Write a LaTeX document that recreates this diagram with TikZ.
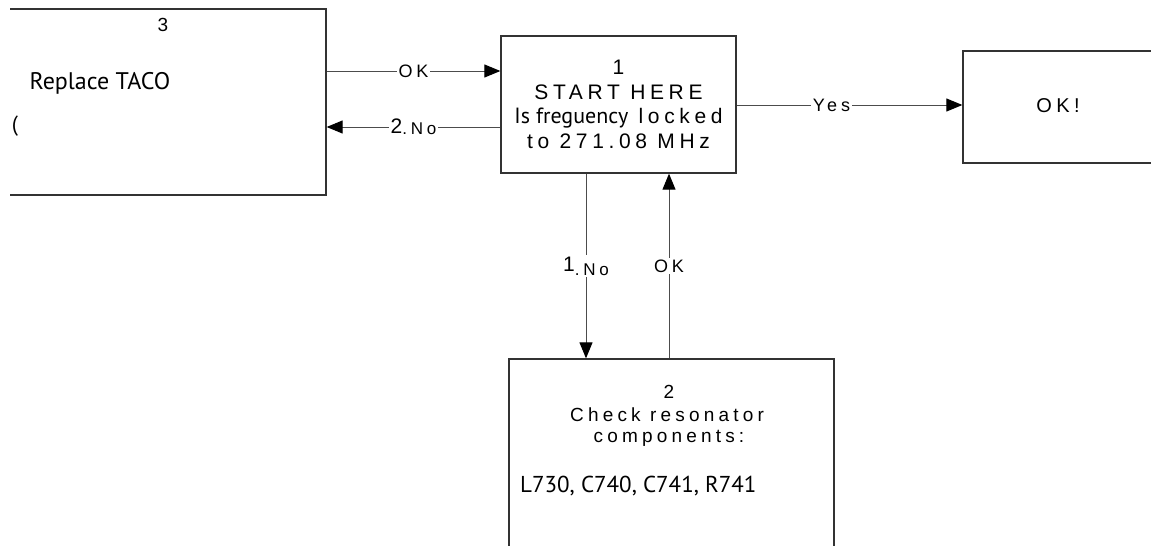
\documentclass[tikz,border=0pt]{standalone}
\usepackage{fontspec}
\setmainfont{Liberation Sans}
\newfontfamily\widefont[LetterSpace=22]{Liberation Sans}
\newfontfamily\narrowfont{PT Sans}
\usetikzlibrary{arrows.meta}

\begin{document}
\begin{tikzpicture}[
    x = 1pt,
    y = -1pt,
    box/.style={
        draw = black!80,
        line width = 1.3pt,
        inner sep = 0pt
    },
    wide/.style={
        inner sep = 0pt,
        font = \widefont\fontsize{19}{22}\selectfont
    },
    narrow/.style={
        inner sep = 0pt,
        font = \narrowfont\fontsize{22}{24}\selectfont
    },
    lbl/.style={
        fill = white,
        inner sep = 2pt,
        font = \widefont\fontsize{18}{20}\selectfont
    },
    link/.style={
        draw = black!70,
        line width = 1pt,
        -{Triangle[length=16pt,width=13pt,black]}
    }
    ]

\useasboundingbox (0,0) rectangle (1151,546);
\clip (10,0) rectangle (1151,546);

% boxes
\node[box, minimum width=346pt, minimum height=186pt] (taco) at (153,102) {};
\node[box, minimum width=235pt, minimum height=137pt, align=center,
      font=\widefont\fontsize{21}{24.5}\selectfont] (start) at (618.5,104.5)
    {1\\START HERE\\{\narrowfont\fontsize{22}{24.5}\selectfont Is freguency} locked\\to 271.08 MHz};
\node[box, minimum width=207pt, minimum height=112pt] (done) at (1066.5,107) {};
\node[box, minimum width=325pt, minimum height=221pt] (check) at (671.5,469.5) {};

% texts
\node[wide] (tacono) at (163,25) {3};
\node[narrow, font=\narrowfont\fontsize{24}{26}\selectfont] (tacotxt) at (100,83) {Replace TACO};
\node[narrow] (tacocut) at (15,126) {(};
\node[wide, font=\widefont\fontsize{20}{22}\selectfont] (donetxt) at (1058,106) {OK!};
\node[wide] (checkno) at (669,392) {2};
\node[wide] (checkl1) at (667,415) {Check resonator};
\node[wide] (checkl2) at (669,438) {components:};
\node[narrow, anchor=west, font=\narrowfont\fontsize{23}{25}\selectfont] (checkl3) at (520,486) {L730, C740, C741, R741};

% connectors
\draw[link] (taco.east |- 0,71) -- node[lbl] {OK} (start.west |- 0,71);
\draw[link] (start.west |- 0,127) -- node[lbl] {\raisebox{1pt}{\fontsize{21}{22}\selectfont 2}{\fontsize{17}{20}\selectfont .No}} (taco.east |- 0,127);
\draw[link] (start.east |- 0,105) -- node[lbl, pos=0.42] {Yes} (done.west |- 0,105);
\draw[link] (start.south -| 586,0) -- node[lbl] {\raisebox{4pt}{\fontsize{21}{22}\selectfont 1}{\fontsize{17}{20}\selectfont .No}} (check.north -| 586,0);
\draw[link] (check.north -| 669,0) -- node[lbl] {OK} (start.south -| 669,0);
\end{tikzpicture}
\end{document}
